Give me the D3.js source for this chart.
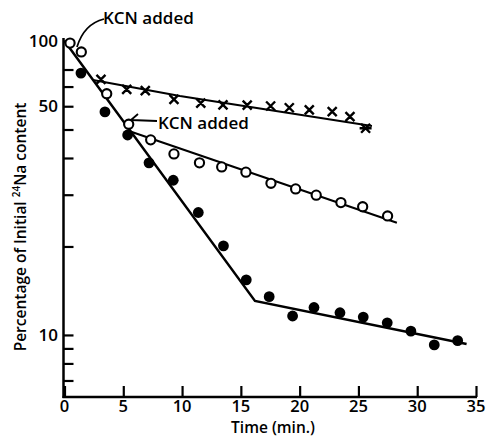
<!DOCTYPE html>
<html>
<head>
<meta charset="utf-8">
<script src="https://cdn.jsdelivr.net/npm/d3@7"></script>
<style>
  html, body { margin: 0; padding: 0; background: #fff; }
  svg { display: block; font-family: "Open Sans", Lato, sans-serif; }
  .lbl { fill: #000; font-weight: 600; }
</style>
</head>
<body>
<svg id="chart" width="496" height="438"></svg>
<script>
// Time in minutes, value as percentage of initial 24Na content (log axis)
const filledT = [1.4, 3.44, 5.37, 7.19, 9.25, 11.38, 13.52, 15.46, 17.41, 19.4, 21.22, 23.43, 25.41, 27.45, 29.46, 31.45, 33.44];
const filledV = [77.8, 57.4, 47.9, 38.5, 33.6, 26.1, 20.1, 15.4, 13.5, 11.6, 12.4, 11.9, 11.5, 11.0, 10.3, 9.25, 9.56];

const openT = [0.47, 1.43, 3.59, 5.46, 7.33, 9.31, 11.48, 13.37, 15.43, 17.56, 19.66, 21.41, 23.51, 25.36, 27.48];
const openV = [98.4, 91.8, 66.2, 52.1, 46.1, 41.3, 38.5, 37.3, 35.8, 32.8, 31.4, 29.9, 28.2, 27.3, 25.4];

const crossT = [3.1, 5.29, 6.87, 9.31, 11.59, 13.48, 15.54, 17.53, 19.12, 20.82, 22.77, 24.28, 25.61];
const crossV = [74.1, 68.5, 67.8, 63.3, 61.5, 60.6, 60.5, 60.1, 59.3, 58.3, 57.5, 55.3, 50.5];

// fitted lines: [time, value]
const controlFit = [[0, 100], [16.2, 13.05], [34.2, 9.32]];
const openFit = [[5.48, 49.4], [28.27, 24.1]];
const crossFit = [[2.42, 73.7], [9.82, 65.0], [26.15, 51.4]];

const xTicks = [0, 5, 10, 15, 20, 25, 30, 35];
const yTicks = [100, 80, 70, 60, 50, 40, 30, 20, 10, 9, 8, 7];
// labels as printed on the reference (its "50" sits on the 60 tick)
const yLabelAt = [100, 60, 10];
const yLabelText = ["100", "50", "10"];

const svg = d3.select("#chart");
const x = d3.scaleLinear().domain([0, 35]).range([64.5, 476]);
const y = d3.scaleLog().domain([6.15, 102.4]).range([397, 38]);

const ink = "#000";

// axes
const yAxis = d3.axisRight(y).tickValues(yTicks).tickSize(10).tickFormat("");
svg.append("g").attr("transform", `translate(${x(0) - 1},0)`)
  .call(yAxis)
  .call(g => g.select(".domain").remove())
  .call(g => g.selectAll(".tick line").attr("stroke", ink).attr("stroke-width", 2.2));

const xAxis = d3.axisTop(x).tickValues(xTicks).tickSize(11).tickFormat("");
svg.append("g").attr("transform", `translate(0,${y.range()[0]})`)
  .call(xAxis)
  .call(g => g.select(".domain").remove())
  .call(g => g.selectAll(".tick line").attr("stroke", ink).attr("stroke-width", 2.2));

svg.append("line").attr("x1", x(0) - 1).attr("x2", x(0) - 1)
  .attr("y1", y.range()[1]).attr("y2", y.range()[0] + 1)
  .attr("stroke", ink).attr("stroke-width", 2.5);
svg.append("line").attr("x1", x(0) - 2).attr("x2", x(35) + 1)
  .attr("y1", y.range()[0]).attr("y2", y.range()[0])
  .attr("stroke", ink).attr("stroke-width", 2.5);

svg.append("g").selectAll("text").data(xTicks).join("text")
  .attr("class", "lbl").attr("x", d => x(d)).attr("y", 412)
  .attr("text-anchor", "middle").attr("font-size", 16.5)
  .text(d => d);

svg.append("g").selectAll("text").data(yLabelAt).join("text")
  .attr("class", "lbl").attr("x", 58).attr("y", d => y(d) + 6)
  .attr("text-anchor", "end").attr("font-size", 17)
  .text((d, i) => yLabelText[i]);

svg.append("text").attr("class", "lbl")
  .attr("x", 273).attr("y", 433).attr("text-anchor", "middle").attr("font-size", 15.5)
  .text("Time (min.)");

const yl = svg.append("text").attr("class", "lbl")
  .attr("transform", "translate(26,227) rotate(-90)")
  .attr("text-anchor", "middle").attr("font-size", 15.5);
yl.append("tspan").text("Percentage of Initial ");
yl.append("tspan").attr("font-size", 10).attr("dy", -6).text("24");
yl.append("tspan").attr("dy", 6).text("Na content");

// fit lines
const line = d3.line().x(d => x(d[0])).y(d => y(d[1]));
svg.append("path").attr("d", line(controlFit)).attr("fill", "none").attr("stroke", ink).attr("stroke-width", 2.5);
svg.append("path").attr("d", line(openFit)).attr("fill", "none").attr("stroke", ink).attr("stroke-width", 2.1);
svg.append("path").attr("d", line(crossFit)).attr("fill", "none").attr("stroke", ink).attr("stroke-width", 2.1);

// markers
svg.append("g").selectAll("circle").data(filledT).join("circle")
  .attr("cx", d => x(d)).attr("cy", (d, i) => y(filledV[i])).attr("r", 5.4)
  .attr("fill", ink);

svg.append("g").selectAll("circle").data(openT).join("circle")
  .attr("cx", d => x(d)).attr("cy", (d, i) => y(openV[i])).attr("r", 4.6)
  .attr("fill", "#fff").attr("stroke", ink).attr("stroke-width", 2.1);

const cross = d3.path();
crossT.forEach((t, i) => {
  const cx = x(t), cy = y(crossV[i]), s = 4.5;
  cross.moveTo(cx - s, cy - s); cross.lineTo(cx + s, cy + s);
  cross.moveTo(cx + s, cy - s); cross.lineTo(cx - s, cy + s);
  if (i === crossT.length - 1) { cross.moveTo(cx - 6, cy); cross.lineTo(cx + 6, cy); }
});
svg.append("path").attr("d", cross.toString()).attr("fill", "none")
  .attr("stroke", ink).attr("stroke-width", 2.4);

// annotations
svg.append("text").attr("class", "lbl").attr("x", 103).attr("y", 24)
  .attr("font-size", 17).text("KCN added");
svg.append("path").attr("d", "M104,19 Q84,24 77,47")
  .attr("fill", "none").attr("stroke", ink).attr("stroke-width", 1.8);

svg.append("text").attr("class", "lbl").attr("x", 158).attr("y", 129)
  .attr("font-size", 17).text("KCN added");
svg.append("path").attr("d", "M157,121 L131,120 M131,120 L138,114")
  .attr("fill", "none").attr("stroke", ink).attr("stroke-width", 1.8);
</script>
</body>
</html>
